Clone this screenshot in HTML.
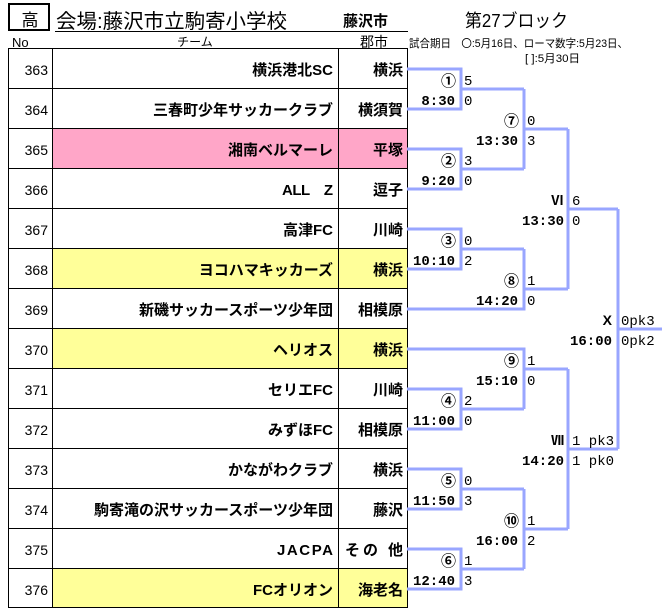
<!DOCTYPE html>
<html><head><meta charset="utf-8"><style>
html,body{margin:0;padding:0;background:#fff;}
svg{display:block;}
.s{font-family:"Liberation Sans","Noto Sans CJK JP",sans-serif;}
.j{font-family:"Liberation Sans","Noto Sans CJK JP",sans-serif;font-weight:bold;font-size:15px;}
.n{font-family:"Liberation Sans",sans-serif;font-size:14px;}
.tm{font-family:"Liberation Mono",monospace;font-size:14px;font-weight:bold;}
.sc{font-family:"Liberation Mono",monospace;font-size:14px;}
.c{font-family:"Noto Sans CJK JP",sans-serif;font-size:15px;font-weight:bold;}
.r{font-family:"Noto Sans CJK JP",sans-serif;font-size:13px;font-weight:bold;}
.br{fill:none;stroke:#99A6FF;stroke-width:3;}
</style></head><body>
<svg width="670" height="613" viewBox="0 0 670 613" xmlns="http://www.w3.org/2000/svg">
<rect width="670" height="613" fill="#fff"/>
<!-- header -->
<rect x="9" y="4" width="40" height="26" fill="none" stroke="#000" stroke-width="2"/>
<text x="30" y="26" class="s" font-size="17" text-anchor="middle">高</text>
<text x="56" y="28" class="s" font-size="20" textLength="231" lengthAdjust="spacingAndGlyphs">会場:藤沢市立駒寄小学校</text>
<line x1="55" y1="31.5" x2="408" y2="31.5" stroke="#000" stroke-width="1"/>
<text x="343" y="26" class="s" font-size="15" font-weight="bold" textLength="45" lengthAdjust="spacingAndGlyphs">藤沢市</text>
<text x="465" y="27" class="s" font-size="18" textLength="103" lengthAdjust="spacingAndGlyphs">第27ブロック</text>
<text x="12" y="47" class="s" font-size="13">No</text>
<text x="195" y="46" class="s" font-size="12" text-anchor="middle">チーム</text>
<text x="374" y="47" class="s" font-size="14" text-anchor="middle">郡市</text>
<text x="409" y="47" class="s" font-size="11" textLength="219" lengthAdjust="spacingAndGlyphs">試合期日　〇:5月16日、ローマ数字:5月23日、</text>
<text x="525" y="62" class="s" font-size="11" textLength="55" lengthAdjust="spacingAndGlyphs">[ ]:5月30日</text>

<!-- row fills -->
<rect x="52" y="128" width="355" height="40" fill="#FFA6C8"/>
<rect x="52" y="248" width="355" height="40" fill="#FFFF99"/>
<rect x="52" y="328" width="355" height="40" fill="#FFFF99"/>
<rect x="52" y="568" width="355" height="40" fill="#FFFF99"/>

<!-- grid -->
<g stroke="#000" stroke-width="1" shape-rendering="crispEdges">
<line x1="8" y1="48.5" x2="408" y2="48.5"/>
<line x1="8" y1="88.5" x2="408" y2="88.5"/>
<line x1="8" y1="128.5" x2="408" y2="128.5"/>
<line x1="8" y1="168.5" x2="408" y2="168.5"/>
<line x1="8" y1="208.5" x2="408" y2="208.5"/>
<line x1="8" y1="248.5" x2="408" y2="248.5"/>
<line x1="8" y1="288.5" x2="408" y2="288.5"/>
<line x1="8" y1="328.5" x2="408" y2="328.5"/>
<line x1="8" y1="368.5" x2="408" y2="368.5"/>
<line x1="8" y1="408.5" x2="408" y2="408.5"/>
<line x1="8" y1="448.5" x2="408" y2="448.5"/>
<line x1="8" y1="488.5" x2="408" y2="488.5"/>
<line x1="8" y1="528.5" x2="408" y2="528.5"/>
<line x1="8" y1="568.5" x2="408" y2="568.5"/>
<line x1="8" y1="607.5" x2="408" y2="607.5"/>
<line x1="8.5" y1="48" x2="8.5" y2="608"/>
<line x1="52.5" y1="48" x2="52.5" y2="608"/>
<line x1="338.5" y1="48" x2="338.5" y2="608"/>
<line x1="407.5" y1="48" x2="407.5" y2="608"/>
</g>

<!-- numbers -->
<g class="n" text-anchor="end">
<text x="48" y="75">363</text>
<text x="48" y="115">364</text>
<text x="48" y="155">365</text>
<text x="48" y="195">366</text>
<text x="48" y="235">367</text>
<text x="48" y="275">368</text>
<text x="48" y="315">369</text>
<text x="48" y="355">370</text>
<text x="48" y="395">371</text>
<text x="48" y="435">372</text>
<text x="48" y="475">373</text>
<text x="48" y="515">374</text>
<text x="48" y="555">375</text>
<text x="48" y="595">376</text>
</g>
<!-- teams -->
<g class="j" text-anchor="end">
<text x="333" y="75">横浜港北SC</text>
<text x="333" y="115">三春町少年サッカークラブ</text>
<text x="333" y="155">湘南ベルマーレ</text>
<text x="333" y="195" textLength="51">ALL　Z</text>
<text x="333" y="235">高津FC</text>
<text x="333" y="275">ヨコハマキッカーズ</text>
<text x="333" y="315">新磯サッカースポーツ少年団</text>
<text x="333" y="355">ヘリオス</text>
<text x="333" y="395">セリエFC</text>
<text x="333" y="435">みずほFC</text>
<text x="333" y="475">かながわクラブ</text>
<text x="333" y="515">駒寄滝の沢サッカースポーツ少年団</text>
<text x="333" y="555" textLength="56">JACPA</text>
<text x="333" y="595">FCオリオン</text>
</g>
<!-- cities -->
<g class="j" text-anchor="end">
<text x="403" y="75">横浜</text>
<text x="403" y="115">横須賀</text>
<text x="403" y="155">平塚</text>
<text x="403" y="195">逗子</text>
<text x="403" y="235">川崎</text>
<text x="403" y="275">横浜</text>
<text x="403" y="315">相模原</text>
<text x="403" y="355">横浜</text>
<text x="403" y="395">川崎</text>
<text x="403" y="435">相模原</text>
<text x="403" y="475">横浜</text>
<text x="403" y="515">藤沢</text>
<text x="403" y="555" textLength="58">その 他</text>
<text x="403" y="595">海老名</text>
</g>

<!-- bracket -->
<g class="br">
<path d="M407,69 H461 V109 H407"/>
<path d="M461,89 H524"/>
<path d="M407,149 H461 V189 H407"/>
<path d="M461,169 H524"/>
<path d="M524,89 V169"/>
<path d="M524,129 H568"/>
<path d="M407,229 H461 V269 H407"/>
<path d="M461,249 H524"/>
<path d="M407,309 H524 V249"/>
<path d="M524,289 H568"/>
<path d="M568,129 V289"/>
<path d="M568,209 H618"/>
<path d="M407,349 H524 V409"/>
<path d="M407,389 H461 V429 H407"/>
<path d="M461,409 H524"/>
<path d="M524,369 H568"/>
<path d="M407,469 H461 V509 H407"/>
<path d="M461,489 H524"/>
<path d="M407,549 H461 V589 H407"/>
<path d="M461,569 H524"/>
<path d="M524,489 V569"/>
<path d="M524,529 H568"/>
<path d="M568,369 V529"/>
<path d="M568,449 H618"/>
<path d="M618,209 V449"/>
<path d="M618,329 H662"/>
</g>

<!-- match labels -->
<g class="c" text-anchor="end">
<text x="456" y="86">①</text>
<text x="456" y="166">②</text>
<text x="456" y="246">③</text>
<text x="456" y="406">④</text>
<text x="456" y="486">⑤</text>
<text x="456" y="566">⑥</text>
<text x="519" y="126">⑦</text>
<text x="519" y="286">⑧</text>
<text x="519" y="366">⑨</text>
<text x="519" y="526">⑩</text>
</g>
<g class="r" text-anchor="end">
<text x="564" y="205">Ⅵ</text>
<text x="564" y="445">Ⅶ</text>
</g>
<text x="612" y="325" class="s" font-size="14" font-weight="bold" text-anchor="end">X</text>
<g class="tm" text-anchor="end">
<text x="455" y="105">8:30</text>
<text x="455" y="185">9:20</text>
<text x="455" y="265">10:10</text>
<text x="455" y="425">11:00</text>
<text x="455" y="505">11:50</text>
<text x="455" y="585">12:40</text>
<text x="518" y="145">13:30</text>
<text x="518" y="305">14:20</text>
<text x="518" y="385">15:10</text>
<text x="518" y="545">16:00</text>
<text x="564" y="225">13:30</text>
<text x="564" y="465">14:20</text>
<text x="612" y="345">16:00</text>
</g>
<g class="sc">
<text x="464" y="85">5</text><text x="464" y="105">0</text>
<text x="464" y="165">3</text><text x="464" y="185">0</text>
<text x="464" y="245">0</text><text x="464" y="265">2</text>
<text x="464" y="405">2</text><text x="464" y="425">0</text>
<text x="464" y="485">0</text><text x="464" y="505">3</text>
<text x="464" y="565">1</text><text x="464" y="585">3</text>
<text x="527" y="125">0</text><text x="527" y="145">3</text>
<text x="527" y="285">1</text><text x="527" y="305">0</text>
<text x="527" y="365">1</text><text x="527" y="385">0</text>
<text x="527" y="525">1</text><text x="527" y="545">2</text>
<text x="572" y="205">6</text><text x="572" y="225">0</text>
<text x="572" y="445">1 pk3</text><text x="572" y="465">1 pk0</text>
<text x="621" y="325">0pk3</text><text x="621" y="345">0pk2</text>
</g>
</svg>
</body></html>
